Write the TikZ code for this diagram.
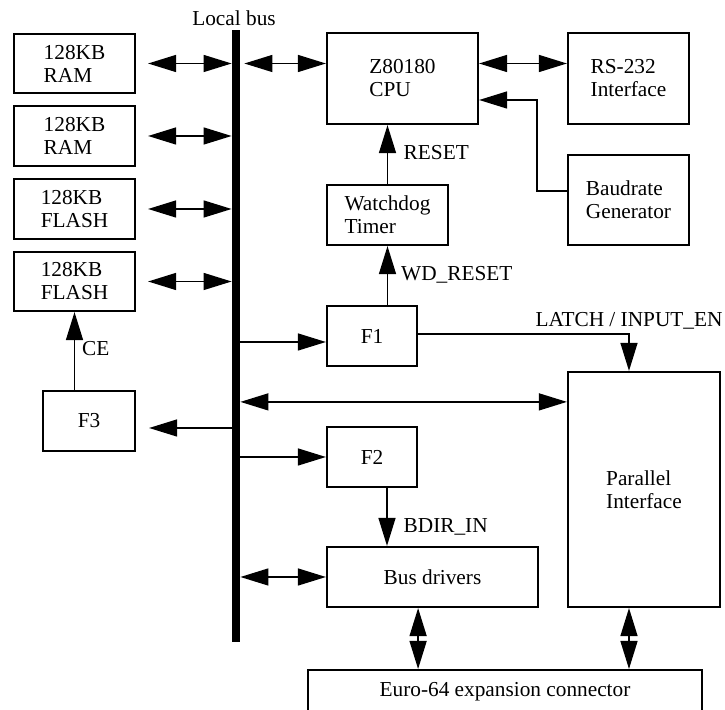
\documentclass[tikz,border=0pt]{standalone}
\usepackage{fontspec}
\setmainfont{Liberation Serif}
\usetikzlibrary{arrows.meta,calc}
\tikzset{x=0.5pt, y=-0.5pt, >={Triangle[length=14pt,width=8.5pt]},
  box/.style={draw, line width=1.1pt, inner sep=0pt},
  block/.style={box, align=left},
  wire/.style={line width=0.7pt},
  sig/.style={wire, ->},
  dsig/.style={wire, <->},
  lbl/.style={inner sep=0pt, anchor=west}}

\begin{document}
\begin{tikzpicture}[font=\fontsize{10.65}{11.5}\selectfont]
  \useasboundingbox (0,0) rectangle (725,710);
  \clip (0,0) rectangle (725,710);
  % local bus
  \node[fill, inner sep=0pt, minimum width=4pt, minimum height=306pt] (bus) at (236,336) {};
  \node[inner sep=0pt, above=1.5pt] (buslbl) at ($(bus.north)+(-2,0)$) {Local bus};
  % memories
  \node[block, minimum width=60.5pt, minimum height=29.5pt] (ram1)   at (74.5,63.5)  {128KB\\RAM};
  \node[block, minimum width=60.5pt, minimum height=30pt]   (ram2)   at (74.5,136)   {128KB\\RAM};
  \node[block, minimum width=60.5pt, minimum height=30pt]   (flash1) at (74.5,209)   {128KB\\FLASH};
  \node[block, minimum width=60.5pt, minimum height=29.5pt] (flash2) at (74.5,281.5) {128KB\\FLASH};
  \node[block, minimum width=46pt,   minimum height=30pt]   (f3)     at (89,421)     {F3};
  % cpu side
  \node[block, minimum width=75.5pt, minimum height=45.5pt] (cpu)   at (402.5,78.5) {Z80180\\CPU};
  \node[block, minimum width=60.5pt, minimum height=45.5pt] (rs232) at (628.5,78.5) {RS-232\\Interface};
  \node[block, minimum width=60.5pt, minimum height=45pt]   (baud)  at (628.5,200)  {Baudrate\\Generator};
  \node[block, minimum width=60.5pt, minimum height=30pt]   (wdog)  at (387.5,215)  {Watchdog\\Timer};
  \node[block, minimum width=45pt,   minimum height=30pt]   (f1)    at (372,336)    {F1};
  \node[block, minimum width=45pt,   minimum height=30pt]   (f2)    at (372,457)    {F2};
  \node[block, minimum width=105.5pt, minimum height=30pt]  (drivers) at (432.5,577) {Bus drivers};
  \node[block, minimum width=76pt,   minimum height=117.5pt] (par)  at (644,489.5)  {Parallel\\Interface};
  \node[box, minimum width=197pt, text height=13pt, text depth=17pt, anchor=north] (euro) at (505,669) {Euro-64 expansion connector};
  % helper points
  \coordinate (f1in)    at ($(f1.west)+(0,6)$);
  \coordinate (f3in)    at ($(f3.east)+(0,7)$);
  \coordinate (f2out)   at ($(f2.south)+(15,0)$);
  \coordinate (parport) at ($(par.north)+(-15,0)$);
  \coordinate (parbus)  at ($(par.north west)+(0,31)$);
  % connections
  \foreach \m in {ram1,ram2,flash1,flash2}
    \draw[dsig, shorten <=6pt] (\m.east) -- (\m.east -| bus.west);
  \draw[dsig, shorten <=2pt] (bus.east |- ram1.east) -- (cpu.west |- ram1.east);
  \draw[dsig] (cpu.east |- ram1.east) -- (rs232.west |- ram1.east);
  \draw[sig] ($(baud.west)+(0,-9)$) -- ++(-30,0) |- ($(cpu.east)+(0,21.5)$);
  \draw[sig] (wdog.north) -- node[lbl, pos=0.53, xshift=7.75pt] {RESET} (wdog.north |- cpu.south);
  \draw[sig] (wdog.south |- f1.north) -- node[lbl, pos=0.51, xshift=6.5pt] {WD\_RESET} (wdog.south);
  \draw[sig] (bus.east |- f1in) -- (f1in);
  \draw[sig] ($(f1.east)+(0,-2)$) -| node[pos=0.5, anchor=base, inner sep=0pt, yshift=3.5pt] {LATCH / INPUT\_EN} (parport);
  \draw[dsig] (bus.east |- parbus) -- (parbus);
  \draw[sig, shorten >=6.5pt] (bus.west |- f3in) -- (f3in);
  \draw[sig] (flash2.south |- f3.north) -- node[lbl, pos=0.525, xshift=3.5pt] {CE} (flash2.south);
  \draw[sig] (bus.east |- f2.west) -- (f2.west);
  \draw[sig] (f2out) -- node[lbl, pos=0.67, xshift=8pt] {BDIR\_IN} (f2out |- drivers.north);
  \draw[dsig] (bus.east |- drivers.west) -- (drivers.west);
  \draw[dsig] (drivers.south -| f2.east) -- (euro.north -| f2.east);
  \draw[dsig] (par.south -| parport) -- (euro.north -| parport);
\end{tikzpicture}
\end{document}
